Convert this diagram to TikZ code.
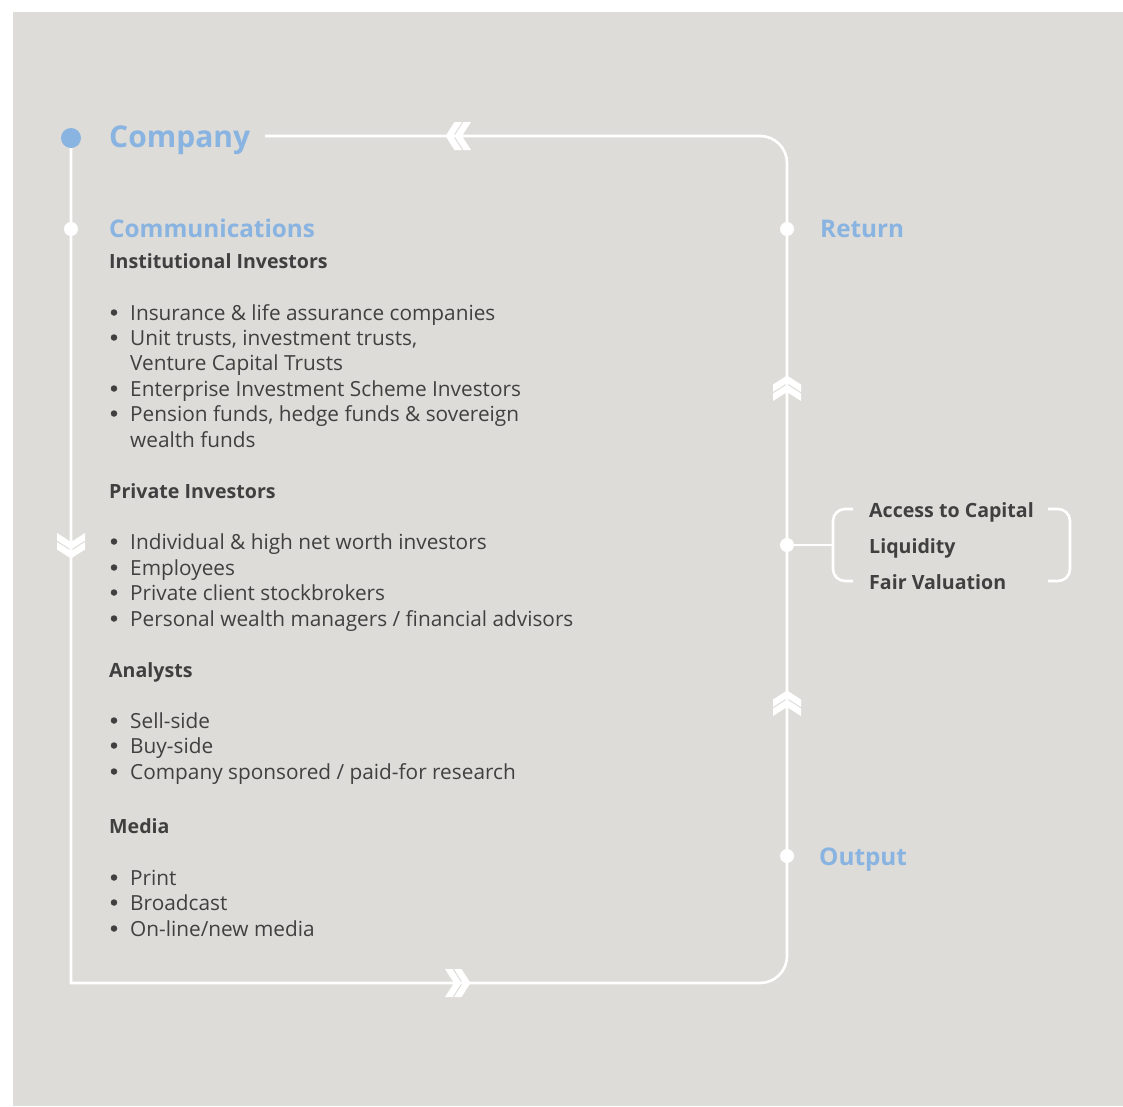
\documentclass[tikz,border=0pt]{standalone}
\usepackage{fontspec}
\setmainfont{Open Sans}
\usetikzlibrary{positioning}

\definecolor{panel}{RGB}{221,220,216}
\definecolor{skyblue}{RGB}{137,179,225}
\definecolor{ink}{RGB}{64,64,64}

\tikzset{
  flow/.style={draw=white, line width=2.6pt},
  waypt/.style={circle, fill=white, minimum size=14pt, inner sep=0pt},
  blt/.style={circle, fill=ink, minimum size=6.5pt, inner sep=0pt},
  stage/.style={text=skyblue, font=\bfseries\fontsize{24.3}{30}\selectfont, anchor=base west, inner sep=0pt},
  group/.style={text=ink, font=\bfseries\fontsize{19.6}{25}\selectfont, anchor=base west, inner sep=0pt},
  entry/.style={text=ink, font=\fontsize{20.8}{25}\selectfont, anchor=base west, inner sep=0pt},
  chevrons/.pic={
    \foreach \a in {12.5,3.5}
      \fill[white] (\a,0) -- (\a-9,14) -- (\a-16.5,14) -- (\a-7.5,0) -- (\a-16.5,-14) -- (\a-9,-14) -- cycle;
  }
}

\begin{document}
\begin{tikzpicture}[x=1pt,y=-1pt]
\fill[white] (0,0) rectangle (1123,1106);
\fill[panel] (13,12) rectangle (1123,1106);
\useasboundingbox (0,0) rectangle (1123,1106);

% the cycle
\node[circle, fill=skyblue, minimum size=20pt, inner sep=0pt] (company) at (71,138) {};
\node[stage, font=\bfseries\fontsize{30}{36}\selectfont] (companytxt) at (109,147) {Company};
\coordinate (topstart) at (265,136);
\coordinate (ne) at (787,136);
\coordinate (se) at (787,983);
\coordinate (sw) at (71,983);
\draw[flow] (topstart) [rounded corners=27pt] -- (ne) -- (se) [sharp corners] -- (sw) -- (company);

\pic[rotate=180] at (458,136) {chevrons};
\pic at (458,983) {chevrons};
\pic[rotate=-90] at (71,546) {chevrons};
\pic[rotate=90] at (787,388) {chevrons};
\pic[rotate=90] at (787,703) {chevrons};

\node[waypt] (comm) at (71,229) {};
\node[waypt] (ret) at (787,229) {};
\node[waypt] (hub) at (787,545) {};
\node[waypt] (out) at (787,856) {};

\node[stage] (commtxt) at (109,237) {Communications};
\node[stage] (rettxt) at (820,237) {Return};
\node[stage] (outtxt) at (819,865) {Output};

% outcomes bracket
\coordinate (brk) at (833,545);
\draw[flow] (hub) -- (brk);
\draw[flow, rounded corners=12pt] (853,509) -- (833,509) -- (833,581) -- (853,581);
\draw[flow, rounded corners=12pt] (1048,509) -- (1070,509) -- (1070,581) -- (1048,581);
\node[group] (access) at (869,517) {Access to Capital};
\node[group] (liquid) at (869,553) {Liquidity};
\node[group] (fairval) at (869,589) {Fair Valuation};

% audiences
\node[group] (inst) at (109,268) {Institutional Investors};
\node[group] (priv) at (109,498) {Private Investors};
\node[group] (analy) at (109,677) {Analysts};
\node[group] (media) at (109,833) {Media};

\foreach \y in {320,345,396,421,549,575,600,626,728,753,779,885,910,936}
  \node[blt] (dot\y) at (114,\y-7.5) {};

\foreach \y/\t in {320/Insurance \& life assurance companies,
    345/{Unit trusts, investment trusts,}, 370/Venture Capital Trusts,
    396/Enterprise Investment Scheme Investors,
    421/{Pension funds, hedge funds \& sovereign}, 447/wealth funds,
    549/Individual \& high net worth investors, 575/Employees,
    600/Private client stockbrokers,
    626/{Personal wealth managers / financial advisors},
    728/Sell-side, 753/Buy-side, 779/{Company sponsored / paid-for research},
    885/Print, 910/Broadcast, 936/{On-line/new media}}
  \node[entry] (item\y) at (130,\y) {\t};
\end{tikzpicture}
\end{document}
